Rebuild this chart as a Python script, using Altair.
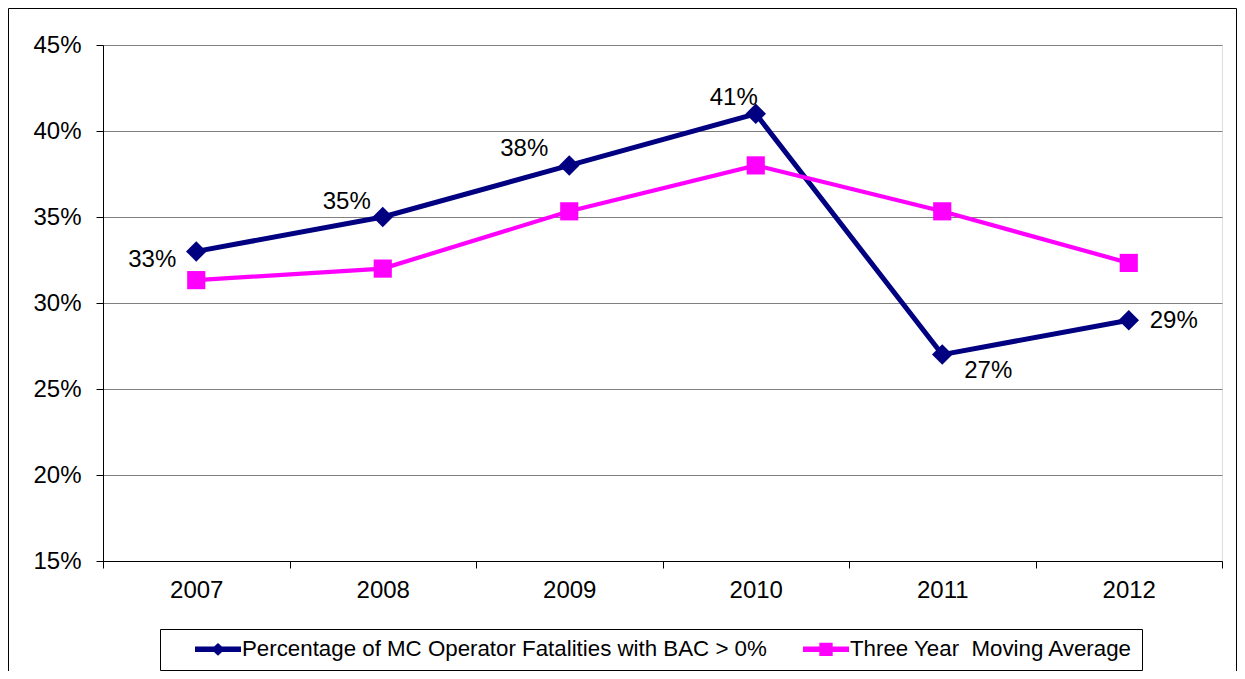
import altair as alt
import pandas as pd

# ---------------- data ----------------
years = ["2007", "2008", "2009", "2010", "2011", "2012"]
bac_pct = [0.33, 0.35, 0.38, 0.41, 0.27, 0.29]
moving_avg = [0.3133, 0.32, 0.3533, 0.38, 0.3533, 0.3233]
bac_labels = ["33%", "35%", "38%", "41%", "27%", "29%"]
series_names = [
    "Percentage of MC Operator Fatalities with BAC > 0%",
    "Three Year\u00a0 Moving Average",
]
series_keys = ["bac", "avg"]
y_ticks = [0.15, 0.20, 0.25, 0.30, 0.35, 0.40, 0.45]

# ---------------- styling ----------------
FONT = "Liberation Sans"
NAVY = "#000080"
MAGENTA = "#FF00FF"
GRID = "#808080"
FS = 24          # axis and data labels
FS_LEG = 22.3    # legend labels

# label offsets (dx, dy) per year, relative to each point
LABEL_OFFSETS = {
    "2007": (-44, 9),
    "2008": (-36, -15),
    "2009": (-45, -16),
    "2010": (-22, -16),
    "2011": (46, 16),
    "2012": (45, 1),
}

# legend symbols: a short line with a marker on it
PATH_DIAMOND = "M-1,-0.12L1,-0.12L1,0.12L-1,0.12Z M-0.3,0L0,-0.28L0.3,0L0,0.28Z"
PATH_SQUARE = "M-1,-0.12L1,-0.12L1,0.12L-1,0.12Z M-0.29,-0.29L0.29,-0.29L0.29,0.29L-0.29,0.29Z"

df = pd.DataFrame({
    "year": years * 2,
    "key": [series_keys[0]] * len(years) + [series_keys[1]] * len(years),
    "series": [series_names[0]] * len(years) + [series_names[1]] * len(years),
    "value": bac_pct + moving_avg,
    "label": bac_labels + [""] * len(years),
})

X = alt.X(
    "year:N",
    scale=alt.Scale(type="band", domain=years, paddingInner=0, paddingOuter=0),
    axis=alt.Axis(
        title=None, grid=False, labelAngle=0, tickBand="extent",
        domainColor="black", tickColor="black", tickSize=7,
        labelFontSize=FS, labelFont=FONT, labelColor="black", labelPadding=10,
    ),
)
Y = alt.Y(
    "value:Q",
    scale=alt.Scale(domain=[0.15, 0.45], nice=False, zero=False),
    axis=alt.Axis(
        title=None, values=y_ticks, format=".0%", grid=True,
        gridColor=GRID, gridWidth=1, domainColor="black", tickColor="black",
        tickSize=7, labelFontSize=FS, labelFont=FONT, labelColor="black",
        labelPadding=15,
    ),
)

base = alt.Chart(df)

line_bac = base.transform_filter("datum.key == 'bac'").mark_line(
    color=NAVY, strokeWidth=5).encode(x=X, y=Y)
pts_bac = base.transform_filter("datum.key == 'bac'").mark_point(
    shape="diamond", filled=True, size=420, color=NAVY, opacity=1).encode(x=X, y=Y)
line_avg = base.transform_filter("datum.key == 'avg'").mark_line(
    color=MAGENTA, strokeWidth=4.2).encode(x=X, y=Y)
pts_avg = base.transform_filter("datum.key == 'avg'").mark_point(
    shape="square", filled=True, size=330, color=MAGENTA, opacity=1).encode(x=X, y=Y)

text_layers = []
for yr, (dx, dy) in LABEL_OFFSETS.items():
    text_layers.append(
        base.transform_filter(f"datum.key == 'bac' && datum.year == '{yr}'")
        .mark_text(font=FONT, fontSize=FS, color="black", align="center",
                   baseline="middle", dx=dx, dy=dy)
        .encode(x=X, y=Y, text="label:N")
    )

legend_props = dict(
    title=None, orient="none", legendX=57, legendY=584, direction="horizontal",
    strokeColor="black", fillColor="white", padding=9, clipHeight=22,
    labelFont=FONT, labelFontSize=FS_LEG, labelColor="black", labelLimit=0,
    symbolSize=2116, symbolStrokeWidth=0, symbolOffset=26, labelOffset=1,
    columnPadding=10,
)
legend_layer = base.transform_filter("false").mark_point(filled=True, opacity=1).encode(
    x=X, y=Y,
    color=alt.Color("series:N", scale=alt.Scale(domain=series_names, range=[NAVY, MAGENTA]),
                    legend=alt.Legend(**legend_props)),
    shape=alt.Shape("series:N", scale=alt.Scale(domain=series_names, range=[PATH_DIAMOND, PATH_SQUARE]),
                    legend=alt.Legend(**legend_props)),
)

frame = alt.Chart(pd.DataFrame({"k": [0]})).mark_rect(
    fill="transparent", stroke="black", strokeWidth=1
).encode(x=alt.value(-94.5), x2=alt.value(1133.5), y=alt.value(-36.5), y2=alt.value(700))

chart = alt.layer(
    line_bac, pts_bac, line_avg, pts_avg, *text_layers, legend_layer, frame
).properties(
    width=1119, height=516,
    padding={"left": 95, "top": 37, "right": 15, "bottom": 110},
    autosize=alt.AutoSizeParams(type="none"),
    background="white",
).configure_view(stroke=GRID, strokeWidth=1).configure(font=FONT)

chart.save("out.html", embed_options={"renderer": "svg", "actions": False})
